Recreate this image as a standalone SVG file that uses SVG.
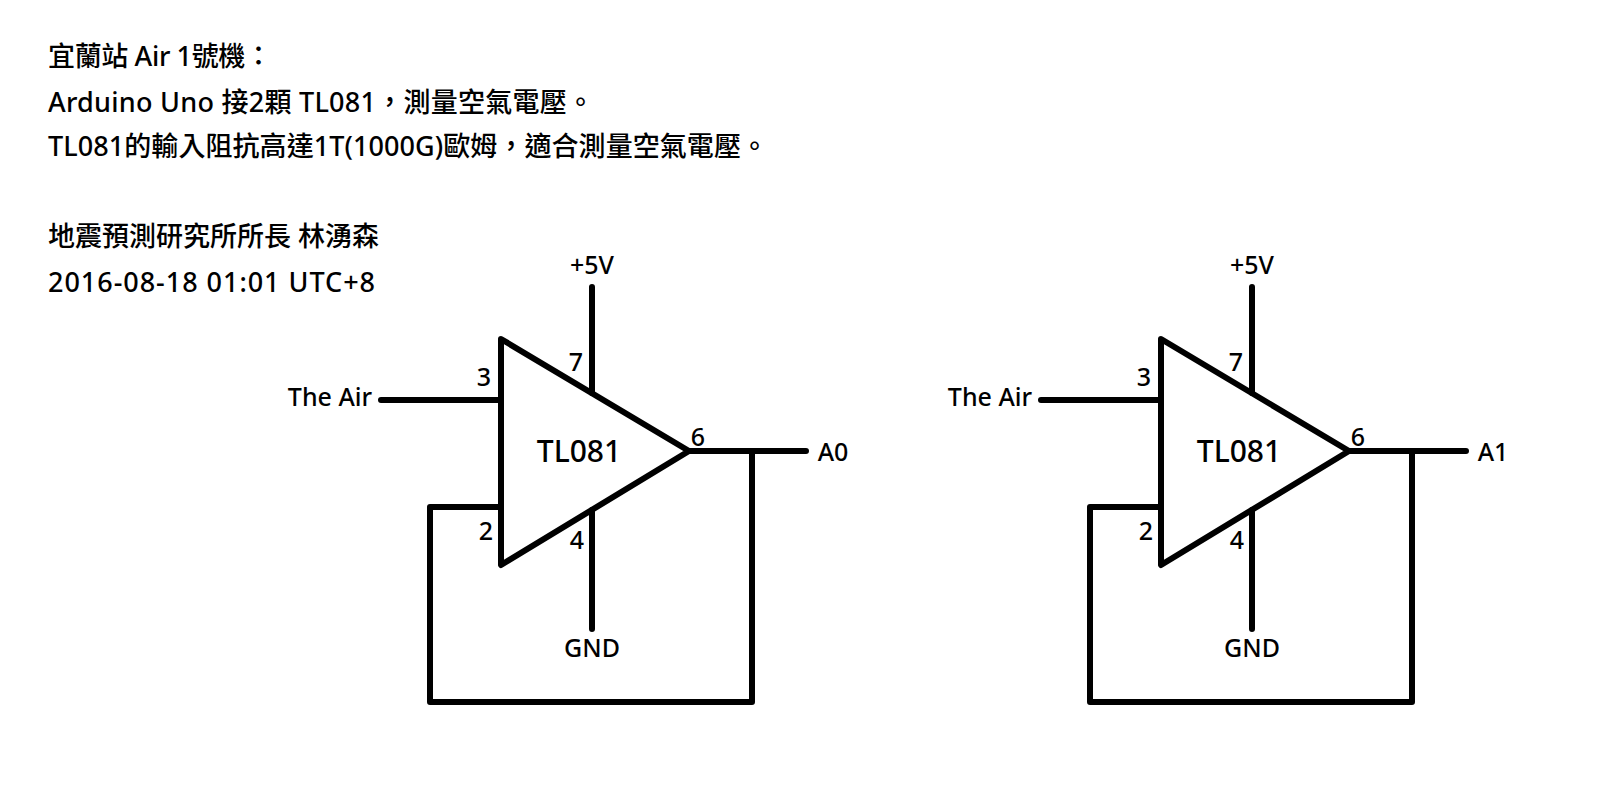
<svg xmlns="http://www.w3.org/2000/svg" width="1600" height="800" viewBox="0 0 1600 800">
<style>
text{font-family:"Noto Sans","Noto Sans CJK TC",sans-serif;fill:#000;font-weight:500}
.h{font-size:27px}
.l{font-size:25px}
.m{text-anchor:middle}
.t{font-size:30px}
.w{fill:none;stroke:#000;stroke-width:6;stroke-linecap:round;stroke-linejoin:round}
</style>
<rect width="1600" height="800" fill="#fff"/>
<g id="heading">
<text class="h" x="48" y="66" textLength="224">宜蘭站 Air 1號機：</text>
<text class="h" x="48" y="112" textLength="546">Arduino Uno 接2顆 TL081，測量空氣電壓。</text>
<text class="h" x="48" y="156" textLength="720">TL081的輸入阻抗高達1T(1000G)歐姆，適合測量空氣電壓。</text>
<text class="h" x="48" y="246" textLength="331">地震預測研究所所長 林湧森</text>
<text class="h" x="48" y="292" textLength="327">2016-08-18 01:01 UTC+8</text>
</g>
<g id="connectors">
<path class="w" d="M592 287V393M381 400H501M689 451H806M752 451V702H430V507H501M592 510V629"/>
<path class="w" d="M1252 287V393M1041 400H1161M1349 451H1466M1412 451V702H1090V507H1161M1252 510V629"/>
</g>
<g id="opamp1">
<path class="w" d="M501 339L689 451L501 565Z"/>
<text class="t m" x="579" y="462">TL081</text>
<text class="l m" x="576" y="371">7</text>
<text class="l m" x="484" y="386">3</text>
<text class="l m" x="486" y="540">2</text>
<text class="l m" x="577" y="549">4</text>
<text class="l m" x="698" y="446">6</text>
</g>
<g id="labels1">
<text class="l m" x="592" y="274">+5V</text>
<text class="l m" x="330" y="406">The Air</text>
<text class="l m" x="833" y="461">A0</text>
<text class="l m" x="592" y="657">GND</text>
</g>
<g id="opamp2">
<path class="w" d="M1161 339L1349 451L1161 565Z"/>
<text class="t m" x="1239" y="462">TL081</text>
<text class="l m" x="1236" y="371">7</text>
<text class="l m" x="1144" y="386">3</text>
<text class="l m" x="1146" y="540">2</text>
<text class="l m" x="1237" y="549">4</text>
<text class="l m" x="1358" y="446">6</text>
</g>
<g id="labels2">
<text class="l m" x="1252" y="274">+5V</text>
<text class="l m" x="990" y="406">The Air</text>
<text class="l m" x="1493" y="461">A1</text>
<text class="l m" x="1252" y="657">GND</text>
</g>
</svg>
